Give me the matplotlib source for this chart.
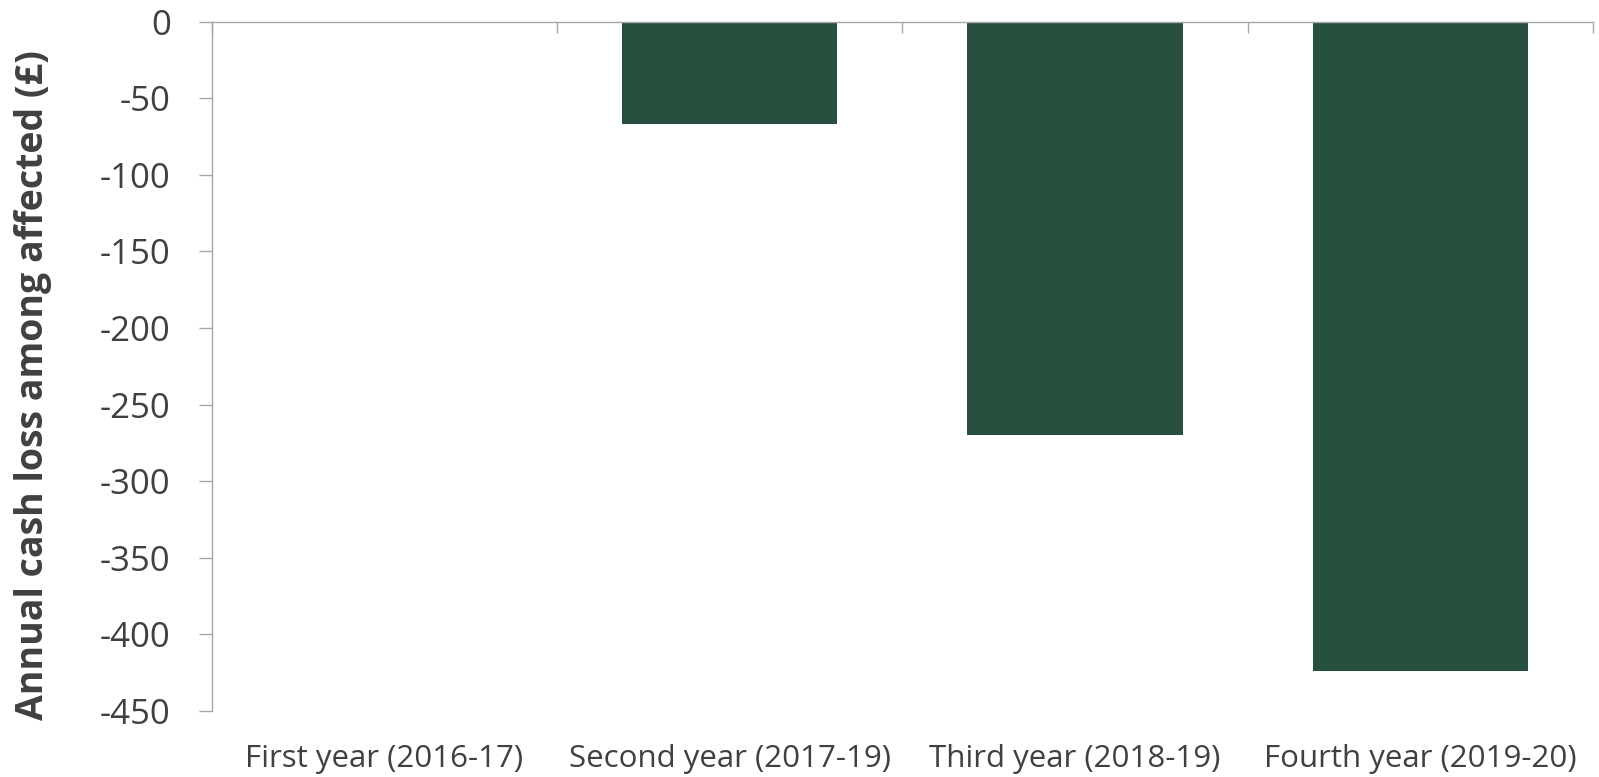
import matplotlib
matplotlib.use("Agg")
import matplotlib.pyplot as plt
import numpy as np

categories = ["First year (2016-17)", "Second year (2017-19)", "Third year (2018-19)", "Fourth year (2019-20)"]
values = [0, -67, -270, -424]
yticks = [0, -50, -100, -150, -200, -250, -300, -350, -400, -450]

plt.rcParams['font.family'] = ['Open Sans', 'DejaVu Sans']

fig = plt.figure(figsize=(15.99, 7.77), dpi=100)
ax = fig.add_axes([211.7/1599, 1-711/777, (1593-211.7)/1599, (711-21.7)/777])

x = np.arange(len(categories))
ax.bar(x, values, width=0.624, color="#264F3D", zorder=2)

ax.set_xlim(-0.5, len(categories)-0.5)
ax.set_ylim(-450, 0)
ax.set_yticks(yticks)
ax.set_yticklabels([str(v) for v in yticks], fontsize=25, color="#404040")
ax.set_xticks(x)
ax.set_xticklabels(categories, fontsize=22.5, color="#404040")

grey = "#A6A6A6"
for s in ["right", "bottom"]:
    ax.spines[s].set_visible(False)
ax.spines["left"].set_color(grey)
ax.spines["top"].set_color(grey)
ax.spines["left"].set_linewidth(1.0)
ax.spines["top"].set_linewidth(1.0)

ax.tick_params(axis="x", which="major", length=0, pad=24)
ax.tick_params(axis="y", which="major", length=9.5, width=1.0, color=grey, pad=20)
ax.set_xticks(np.arange(-0.5, len(categories), 1.0), minor=True)
ax.tick_params(axis="x", which="minor", top=True, bottom=False, direction="in", length=8, width=1.0, color=grey)

fig.text(33/1599, 1-385/777, "Annual cash loss among affected (£)", rotation=90,
         ha="center", va="center", fontsize=27, fontweight="bold", color="#404040")

fig.savefig("out.png", dpi=100)
